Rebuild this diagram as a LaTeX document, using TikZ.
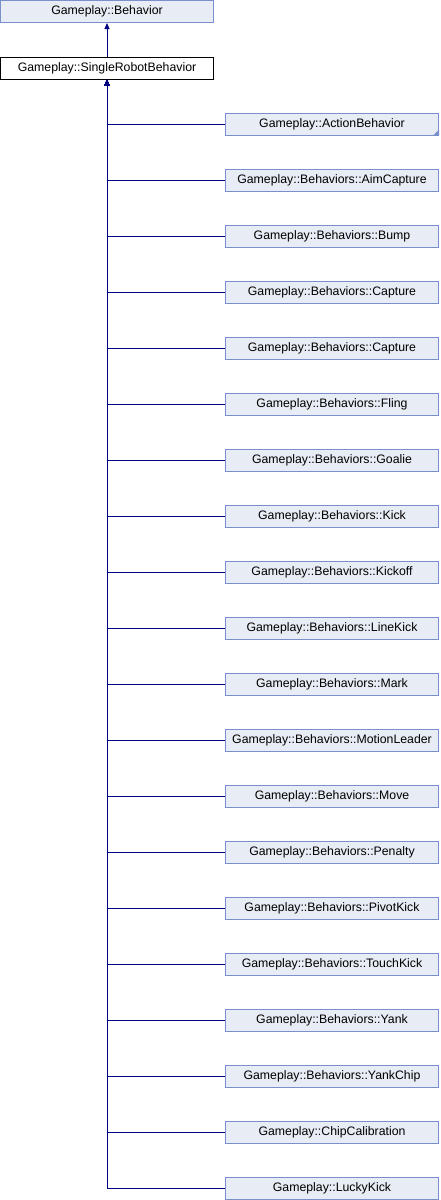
\documentclass[tikz,border=0pt]{standalone}
\usepackage{fontspec}
\setmainfont{Liberation Sans}
\usetikzlibrary{arrows.meta}
\definecolor{boxfill}{RGB}{232,236,245}
\definecolor{boxline}{RGB}{122,144,204}
\definecolor{edge}{RGB}{0,0,128}
\begin{document}
\begin{tikzpicture}[x=1pt,y=-1pt,
  cls/.style={draw=boxline,fill=boxfill,line width=1pt,minimum width=213pt,minimum height=22pt,inner sep=0pt,font=\fontsize{12.3}{14}\selectfont},
  cur/.style={cls,draw=black,fill=white},
  inh/.style={draw=edge,line width=1pt,{Triangle[length=6pt,width=5pt]}-}]
\useasboundingbox (0,0) rectangle (440,1200);
\node[cls] (base) at (107,11.5) {Gameplay::Behavior};
\node[cur] (srb) at (107,68) {Gameplay::SingleRobotBehavior};
\draw[inh] (base.south) -- (srb.north);
\foreach \name [count=\i from 0] in {
  Gameplay::ActionBehavior,
  Gameplay::Behaviors::AimCapture,
  Gameplay::Behaviors::Bump,
  Gameplay::Behaviors::Capture,
  Gameplay::Behaviors::Capture,
  Gameplay::Behaviors::Fling,
  Gameplay::Behaviors::Goalie,
  Gameplay::Behaviors::Kick,
  Gameplay::Behaviors::Kickoff,
  Gameplay::Behaviors::LineKick,
  Gameplay::Behaviors::Mark,
  Gameplay::Behaviors::MotionLeader,
  Gameplay::Behaviors::Move,
  Gameplay::Behaviors::Penalty,
  Gameplay::Behaviors::PivotKick,
  Gameplay::Behaviors::TouchKick,
  Gameplay::Behaviors::Yank,
  Gameplay::Behaviors::YankChip,
  Gameplay::ChipCalibration,
  Gameplay::LuckyKick}{
  \node[cls] (c\i) at (332,124+56*\i) {\name};
  \draw[inh] (srb.south) |- (c\i.west);
}
\fill[boxline] (c0.south east) -- ++(0,-6) -- ++(-6,6) -- cycle;
\end{tikzpicture}
\end{document}
